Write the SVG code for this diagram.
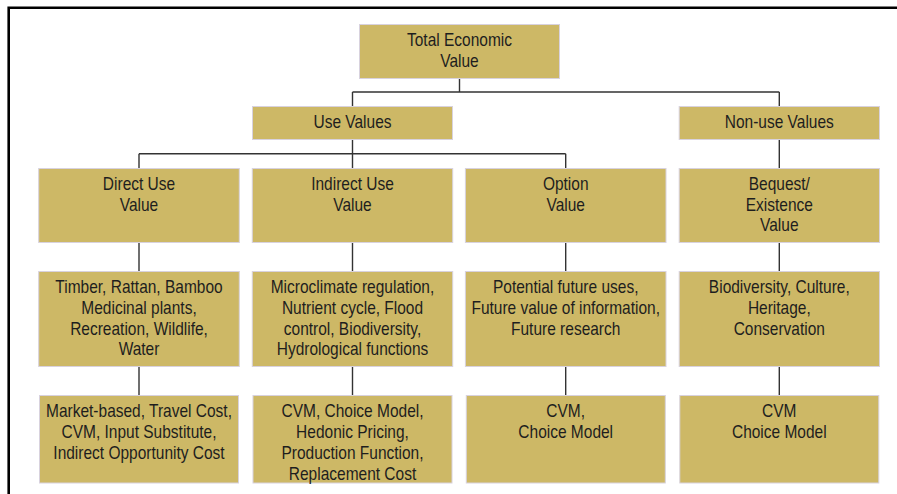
<svg xmlns="http://www.w3.org/2000/svg" width="897" height="494" viewBox="0 0 897 494">
  <style>
    .box { fill: #cdb866; stroke: #d8d2de; stroke-width: 1; }
    .lbl { font-family: "Liberation Sans", Arial, sans-serif; font-size: 17.5px; fill: #1e1e1e; text-anchor: middle; }
    .wire { fill: none; stroke: #333333; stroke-width: 1.4; }
    .frame { fill: none; stroke: #000000; stroke-width: 2.6; }
  </style>

  <rect x="0" y="0" width="897" height="494" fill="#ffffff"/>
  <path class="frame" d="M8.7,494 V7.8 H897"/>

  <!-- connectors -->
  <g id="connectors">
    <path class="wire" d="M459.5,78.5 V92 M352.5,92 H779.3 M352.5,92 V106.5 M779.3,92 V106.5"/>
    <path class="wire" d="M352.5,139.5 V168.5 M139,153.7 H565.7 M139,153.7 V168.5 M565.7,153.7 V168.5"/>
    <path class="wire" d="M779.3,139.5 V168.5"/>
    <path class="wire" d="M139,242.5 V271.5 M352.5,242.5 V271.5 M565.7,242.5 V271.5 M779.3,242.5 V271.5"/>
    <path class="wire" d="M139,366.5 V395.5 M352.5,366.5 V395.5 M565.7,366.5 V395.5 M779.3,366.5 V395.5"/>
  </g>

  <!-- level 0 -->
  <g id="total">
    <rect class="box" x="359.5" y="24.5" width="200" height="54"/>
    <g transform="translate(459.5 0) scale(0.886 1)">
      <text class="lbl" x="0" y="46.3">Total Economic</text>
      <text class="lbl" x="0" y="66.8">Value</text>
    </g>
  </g>

  <!-- level 1 -->
  <g id="use">
    <rect class="box" x="252.5" y="106.5" width="200" height="33"/>
    <g transform="translate(352.5 0) scale(0.886 1)">
      <text class="lbl" x="0" y="128.3">Use Values</text>
    </g>
  </g>
  <g id="nonuse">
    <rect class="box" x="679.2" y="106.5" width="200.3" height="33"/>
    <g transform="translate(779.3 0) scale(0.886 1)">
      <text class="lbl" x="0" y="128.3">Non-use Values</text>
    </g>
  </g>

  <!-- level 2 -->
  <g id="direct">
    <rect class="box" x="38.7" y="168.5" width="200.6" height="74"/>
    <g transform="translate(139 0) scale(0.886 1)">
      <text class="lbl" x="0" y="190.2">Direct Use</text>
      <text class="lbl" x="0" y="210.8">Value</text>
    </g>
  </g>
  <g id="indirect">
    <rect class="box" x="252.3" y="168.5" width="200.4" height="74"/>
    <g transform="translate(352.5 0) scale(0.886 1)">
      <text class="lbl" x="0" y="190.2">Indirect Use</text>
      <text class="lbl" x="0" y="210.8">Value</text>
    </g>
  </g>
  <g id="option">
    <rect class="box" x="465.4" y="168.5" width="200.6" height="74"/>
    <g transform="translate(565.7 0) scale(0.886 1)">
      <text class="lbl" x="0" y="190.2">Option</text>
      <text class="lbl" x="0" y="210.8">Value</text>
    </g>
  </g>
  <g id="bequest">
    <rect class="box" x="679.2" y="168.5" width="200.3" height="74"/>
    <g transform="translate(779.3 0) scale(0.886 1)">
      <text class="lbl" x="0" y="190.2">Bequest/</text>
      <text class="lbl" x="0" y="210.8">Existence</text>
      <text class="lbl" x="0" y="231.5">Value</text>
    </g>
  </g>

  <!-- level 3: examples -->
  <g id="direct-examples">
    <rect class="box" x="38.7" y="271.5" width="200.6" height="95"/>
    <g transform="translate(139 0) scale(0.886 1)">
      <text class="lbl" x="0" y="293.3">Timber, Rattan, Bamboo</text>
      <text class="lbl" x="0" y="314">Medicinal plants,</text>
      <text class="lbl" x="0" y="334.8">Recreation, Wildlife,</text>
      <text class="lbl" x="0" y="355.5">Water</text>
    </g>
  </g>
  <g id="indirect-examples">
    <rect class="box" x="252.3" y="271.5" width="200.4" height="95"/>
    <g transform="translate(352.5 0) scale(0.886 1)">
      <text class="lbl" x="0" y="293.3">Microclimate regulation,</text>
      <text class="lbl" x="0" y="314">Nutrient cycle, Flood</text>
      <text class="lbl" x="0" y="334.8">control, Biodiversity,</text>
      <text class="lbl" x="0" y="355.5">Hydrological functions</text>
    </g>
  </g>
  <g id="option-examples">
    <rect class="box" x="465.4" y="271.5" width="200.6" height="95"/>
    <g transform="translate(565.7 0) scale(0.886 1)">
      <text class="lbl" x="0" y="293.3">Potential future uses,</text>
      <text class="lbl" x="0" y="314">Future value of information,</text>
      <text class="lbl" x="0" y="334.8">Future research</text>
    </g>
  </g>
  <g id="bequest-examples">
    <rect class="box" x="679.2" y="271.5" width="200.3" height="95"/>
    <g transform="translate(779.3 0) scale(0.886 1)">
      <text class="lbl" x="0" y="293.3">Biodiversity, Culture,</text>
      <text class="lbl" x="0" y="314">Heritage,</text>
      <text class="lbl" x="0" y="334.8">Conservation</text>
    </g>
  </g>

  <!-- level 4: valuation methods -->
  <g id="direct-methods">
    <rect class="box" x="39.5" y="395.5" width="199" height="87.5"/>
    <g transform="translate(139 0) scale(0.886 1)">
      <text class="lbl" x="0" y="417.3">Market-based, Travel Cost,</text>
      <text class="lbl" x="0" y="438.2">CVM, Input Substitute,</text>
      <text class="lbl" x="0" y="459">Indirect Opportunity Cost</text>
    </g>
  </g>
  <g id="indirect-methods">
    <rect class="box" x="253" y="395.5" width="199" height="87.5"/>
    <g transform="translate(352.5 0) scale(0.886 1)">
      <text class="lbl" x="0" y="417.3">CVM, Choice Model,</text>
      <text class="lbl" x="0" y="438.2">Hedonic Pricing,</text>
      <text class="lbl" x="0" y="459">Production Function,</text>
      <text class="lbl" x="0" y="479.7">Replacement Cost</text>
    </g>
  </g>
  <g id="option-methods">
    <rect class="box" x="466.3" y="395.5" width="199" height="87.5"/>
    <g transform="translate(565.7 0) scale(0.886 1)">
      <text class="lbl" x="0" y="417">CVM,</text>
      <text class="lbl" x="0" y="437.6">Choice Model</text>
    </g>
  </g>
  <g id="bequest-methods">
    <rect class="box" x="679.8" y="395.5" width="199" height="87.5"/>
    <g transform="translate(779.3 0) scale(0.886 1)">
      <text class="lbl" x="0" y="417">CVM</text>
      <text class="lbl" x="0" y="437.6">Choice Model</text>
    </g>
  </g>
</svg>
